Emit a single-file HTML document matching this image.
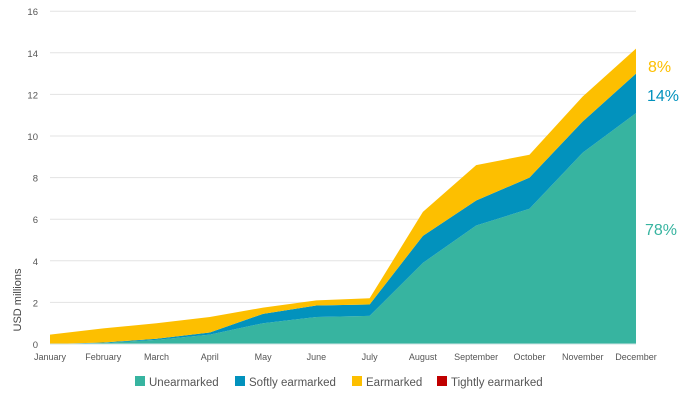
<!DOCTYPE html>
<html><head><meta charset="utf-8"><style>
body{margin:0;background:#fff;font-family:"Liberation Sans",sans-serif;}
svg text{font-family:"Liberation Sans",sans-serif;}
</style></head><body>
<svg id="chart" width="700" height="401" xmlns="http://www.w3.org/2000/svg">
<g id="grid"></g>
<g id="yticks"></g>
<g id="areas"></g>
<g id="xticks"></g>
<text transform="translate(21,300) rotate(-90)" text-anchor="middle" font-size="11" fill="#444">USD millions</text>
<text x="648" y="72" font-size="16" fill="#fdbf00">8%</text>
<text x="647" y="101" font-size="16" fill="#0292bd">14%</text>
<text x="645" y="235" font-size="16" fill="#37b4a0">78%</text>
<g font-size="11.5" fill="#555">
<g><rect x="135" y="376" width="10" height="10" fill="#37b4a0"/><text x="149" y=386>Unearmarked</text></g>
<g><rect x="235" y="376" width="10" height="10" fill="#0292bd"/><text x="249" y="386">Softly earmarked</text></g>
<g><rect x="352" y="376" width="10" height="10" fill="#fdbf00"/><text x="366" y="386">Earmarked</text></g>
<g><rect x="437" y="376" width="10" height="10" fill="#c00000"/><text x="451" y="386">Tightly earmarked</text></g>
</g>
</svg>
<script>
const categories=["January","February","March","April","May","June","July","August","September","October","November","December"];
const unearmarked=[0,0.05,0.2,0.45,1.0,1.3,1.35,3.9,5.7,6.5,9.2,11.1];
const softly=[0,0.02,0.05,0.1,0.45,0.55,0.55,1.3,1.2,1.5,1.5,1.9];
const earmarked=[0.45,0.68,0.75,0.75,0.3,0.25,0.3,1.15,1.7,1.1,1.2,1.2];
const tightly=[0,0,0,0,0,0,0,0,0,0,0,0];
const yTicks=[0,2,4,6,8,10,12,14,16];
const NS="http://www.w3.org/2000/svg";
const x0=50,x1=636,yb=344,yt=11.2,ymax=16;
function xs(i){return x0+(x1-x0)*i/(categories.length-1);}
function ys(v){return yb-(yb-yt)*v/ymax;}
function mk(t,a,p){const e=document.createElementNS(NS,t);for(const k in a)e.setAttribute(k,a[k]);p.appendChild(e);return e;}
const grid=document.getElementById('grid'),yt_=document.getElementById('yticks');
yTicks.forEach(v=>{
 const l=mk('line',{x1:x0,x2:x1,y1:ys(v),y2:ys(v),stroke:'#e3e3e3','stroke-width':1},grid);
 
 
 const t=mk('text',{x:38,y:ys(v)+4,'text-anchor':'end','font-size':9.5,fill:'#555'},yt_);
 t.textContent=v;
 
 
});
const xt=document.getElementById('xticks');
mk('line',{x1:x0,x2:x1,y1:yb,y2:yb,stroke:'#cfe3e3'},xt);
categories.forEach((c,i)=>{
 const t=mk('text',{x:xs(i),y:360,'text-anchor':'middle','font-size':9,fill:'#555'},xt);
 t.textContent=c;
 
 
});
const series=[[unearmarked,'#37b4a0','area-unearmarked'],[softly,'#0292bd','area-softly-earmarked'],[earmarked,'#fdbf00','area-earmarked'],[tightly,'#c00000','area-tightly-earmarked']];
const base=categories.map(()=>0);
const areas=document.getElementById('areas');
series.forEach(([vals,col,name])=>{
 const top=vals.map((v,i)=>base[i]+v);
 let d='';
 top.forEach((v,i)=>{d+=(i?'L':'M')+xs(i)+','+ys(v);});
 for(let i=categories.length-1;i>=0;i--)d+='L'+xs(i)+','+ys(base[i]);
 d+='Z';
 const p=mk('path',{d:d,fill:col},areas);
 
 
 top.forEach((v,i)=>base[i]=v);
});
</script>
</body></html>
